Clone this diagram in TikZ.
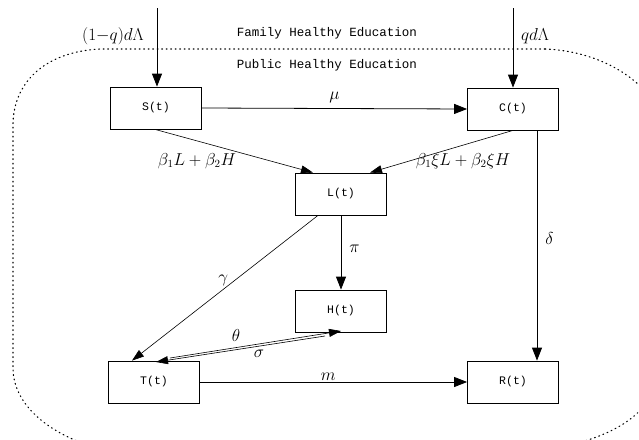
\documentclass[tikz,border=0pt]{standalone}
\usepackage{fontspec}
\newfontfamily\boxfont{Liberation Mono}
\usetikzlibrary{arrows.meta}
\begin{document}
\begin{tikzpicture}[x=1pt,y=-1pt,
  comp/.style={draw,line width=0.8pt,minimum width=91pt,minimum height=42pt,inner sep=0pt,font=\boxfont\fontsize{11.5}{13}\selectfont},
  flow/.style={line width=0.8pt,-{Triangle[length=13pt,width=10pt]}},
  thinflow/.style={line width=0.6pt,-{Triangle[length=12pt,width=8pt]}},
  lab/.style={inner sep=0pt,font=\fontsize{16}{18}\selectfont},
  edu/.style={inner sep=0pt,font=\boxfont\fontsize{12.5}{14}\selectfont},
  bound/.style={line width=1.1pt,dash pattern=on 0.9pt off 3.6pt,line cap=round}]
\useasboundingbox (0,0) rectangle (639,439);
\begin{scope}
\clip (0,0) rectangle (639,439);
\draw[bound] (545,49) -- (100,49) .. controls (42,52) and (13,85) .. (13,125) -- (13,368)
  .. controls (13,405) and (50,435) .. (98,448);
\draw[bound] (545,49) .. controls (598,51) and (648,78) .. (664,122) -- (664,352)
  .. controls (660,410) and (622,434) .. (558,448);
\end{scope}
\node[comp] (S) at (156,108) {S(t)};
\node[comp] (C) at (513,109) {C(t)};
\node[comp] (L) at (341,194) {L(t)};
\node[comp] (H) at (341,311) {H(t)};
\node[comp] (T) at (154,382) {T(t)};
\node[comp] (R) at (513,382) {R(t)};
\coordinate (inS) at (157,8);
\coordinate (inC) at (513,8);
\coordinate (tOut) at (170,358);
\coordinate (hIn) at (341,331);
\coordinate (hOut) at (325,336);
\coordinate (tIn) at (156,362);
\node[edu] (fam) at (327,33) {Family Healthy Education};
\node[edu] (pub) at (327,65) {Public Healthy Education};
\node[lab] (l1) at (113,36) {$(1{-}q)d\Lambda$};
\node[lab] (l2) at (535,36) {$qd\Lambda$};
\draw[flow] (inS) -- (S.north -| inS);
\draw[flow] (inC) -- (C.north);
\draw[flow] (S.east) -- node[lab,above=5pt] (mu) {$\mu$} (C.west);
\draw[thinflow] ([xshift=-1pt]S.south) -- ([xshift=-28pt]L.north);
\draw[thinflow] (C.south) -- ([xshift=29pt]L.north);
\node[lab] (b1) at (197,161) {$\beta_1L+\beta_2H$};
\node[lab] (b2) at (463,161) {$\beta_1\xi L+\beta_2\xi H$};
\draw[flow] ([xshift=24pt]C.south) -- node[lab,right=8pt,pos=0.47] (de) {$\delta$} ([xshift=24pt]R.north);
\draw[flow] (L.south) -- node[lab,right=8pt,pos=0.45] (pi) {$\pi$} (H.north);
\draw[thinflow] ([xshift=-23pt]L.south) -- node[lab,left=6pt,pos=0.45] (ga) {$\gamma$} ([xshift=-22pt]T.north);
\draw[thinflow] (tOut) -- (hIn);
\draw[thinflow] (hOut) -- (tIn);
\node[lab] (th) at (236,335) {$\theta$};
\node[lab] (si) at (259,354) {$\sigma$};
\draw[flow] (T.east) -- node[lab,above=1pt,pos=0.48] (m) {$m$} (R.west);
\end{tikzpicture}
\end{document}
